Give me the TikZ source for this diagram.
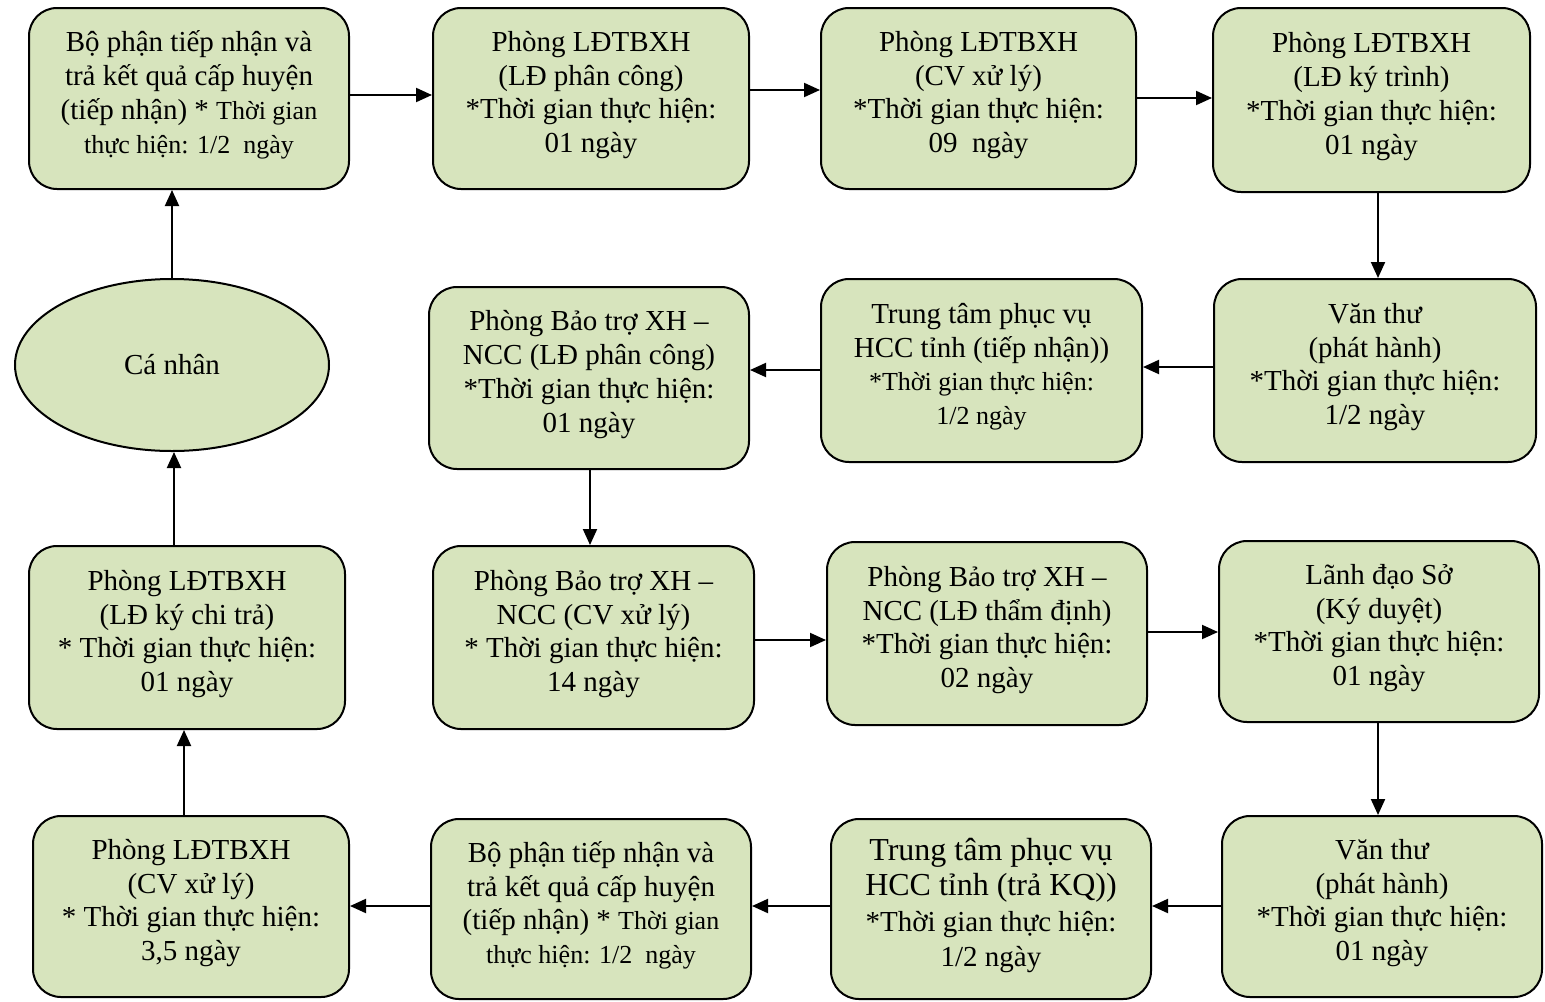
\documentclass[tikz,border=0pt]{standalone}
\usepackage{fontspec}
\setmainfont{Liberation Serif}
\usetikzlibrary{shapes.geometric,arrows.meta}
\definecolor{boxfill}{HTML}{D7E4BD}
\newcommand\bigtxt{\fontsize{14.5}{16.9}\selectfont}
\newcommand\smtxt{\fontsize{13}{16.9}\selectfont}
\newcommand\hugetxt{\fontsize{16}{17.75}\selectfont}

\begin{document}
\begin{tikzpicture}[x=0.5pt,y=-0.5pt,
  box/.style={draw=black, line width=1pt, fill=boxfill, rounded corners=14pt,
    align=center, inner sep=0pt, text depth=6.5pt, font=\bigtxt},
  sz/.style 2 args={minimum width=#1*0.5pt-1pt, minimum height=#2*0.5pt-1pt},
  oval/.style={ellipse, draw=black, line width=1pt, fill=boxfill, inner sep=0pt, font=\bigtxt},
  arr/.style={line width=1pt, -{Triangle[length=8pt,width=7pt]}}]
\useasboundingbox (0,0) rectangle (1545,1001);

% row 1
\node[box, sz={322}{183}] (b1) at (189,98.5)
  {Bộ phận tiếp nhận và\\ trả kết quả cấp huyện\\ (tiếp nhận) * {\smtxt Thời gian}\\ \smtxt thực hiện: 1/2\ \ ngày};
\node[box, sz={318}{183}] (b2) at (591,98.5)
  {Phòng LĐTBXH\\ (LĐ phân công)\\ *Thời gian thực hiện:\\ 01 ngày};
\node[box, sz={317}{183}] (b3) at (978.5,98.5)
  {Phòng LĐTBXH\\ (CV xử lý)\\ *Thời gian thực hiện:\\ 09\ \ ngày};
\node[box, sz={319}{186}] (b4) at (1371.5,100)
  {Phòng LĐTBXH\\ (LĐ ký trình)\\ *Thời gian thực hiện:\\ 01 ngày};

% row 2
\node[oval, minimum width=158pt-1pt, minimum height=87pt-1pt] (e) at (172,365) {Cá nhân};
\node[box, sz={322}{184}] (b5) at (589,378)
  {Phòng Bảo trợ XH –\\ NCC (LĐ phân công)\\ *Thời gian thực hiện:\\ 01 ngày};
\node[box, sz={323}{185}] (b6) at (981.5,370.5)
  {Trung tâm phục vụ\\ HCC tỉnh (tiếp nhận))\\ \smtxt *Thời gian thực hiện:\\ \smtxt 1/2 ngày};
\node[box, sz={324}{185}] (b7) at (1375,370.5)
  {Văn thư\\ (phát hành)\\ *Thời gian thực hiện:\\ 1/2 ngày};

% row 3
\node[box, sz={318}{185}] (b8) at (187,637.5)
  {Phòng LĐTBXH\\ (LĐ ký chi trả)\\ * Thời gian thực hiện:\\ 01 ngày};
\node[box, sz={323}{185}] (b9) at (593.5,637.5)
  {Phòng Bảo trợ XH –\\ NCC (CV xử lý)\\ * Thời gian thực hiện:\\ 14 ngày};
\node[box, sz={322}{185}] (b10) at (987,633.5)
  {Phòng Bảo trợ XH –\\ NCC (LĐ thẩm định)\\ *Thời gian thực hiện:\\ 02 ngày};
\node[box, sz={322}{183}] (b11) at (1379,631.5)
  {Lãnh đạo Sở\\ (Ký duyệt)\\ *Thời gian thực hiện:\\ 01 ngày};

% row 4
\node[box, sz={318}{183}] (b12) at (191,906.5)
  {Phòng LĐTBXH\\ (CV xử lý)\\ * Thời gian thực hiện:\\ 3,5 ngày};
\node[box, sz={322}{182}] (b13) at (591,909)
  {Bộ phận tiếp nhận và\\ trả kết quả cấp huyện\\ (tiếp nhận) * {\smtxt Thời gian}\\ \smtxt thực hiện: 1/2\ \ ngày};
\node[box, sz={322}{182}, font=\fontsize{14.5}{17.75}\selectfont] (b14) at (991,909)
  {\hugetxt Trung tâm phục vụ\\ \hugetxt HCC tỉnh (trả KQ))\\ *Thời gian thực hiện:\\ 1/2 ngày};
\node[box, sz={322}{183}] (b15) at (1382,906.5)
  {Văn thư\\ (phát hành)\\ *Thời gian thực hiện:\\ 01 ngày};

% connectors
\draw[arr] (e.north) -- (b1.south -| e.north);
\draw[arr] (b1.east |- 0,95) -- (b2.west |- 0,95);
\draw[arr] (b2.east |- 0,90) -- (b3.west |- 0,90);
\draw[arr] (b3.east |- 0,98) -- (b4.west |- 0,98);
\draw[arr] (b4.south -| 1378,0) -- (b7.north -| 1378,0);
\draw[arr] (b7.west |- 0,367) -- (b6.east |- 0,367);
\draw[arr] (b6.west |- 0,370) -- (b5.east |- 0,370);
\draw[arr] (b5.south -| 590,0) -- (b9.north -| 590,0);
\draw[arr] (b9.east |- 0,640) -- (b10.west |- 0,640);
\draw[arr] (b10.east |- 0,632) -- (b11.west |- 0,632);
\draw[arr] (b11.south -| 1378,0) -- (b15.north -| 1378,0);
\draw[arr] (b15.west |- 0,906) -- (b14.east |- 0,906);
\draw[arr] (b14.west |- 0,906) -- (b13.east |- 0,906);
\draw[arr] (b13.west |- 0,906) -- (b12.east |- 0,906);
\draw[arr] (b12.north -| 184,0) -- (b8.south -| 184,0);
\draw[arr] (b8.north -| 174,0) -- (e.south -| 174,0);
\end{tikzpicture}
\end{document}
